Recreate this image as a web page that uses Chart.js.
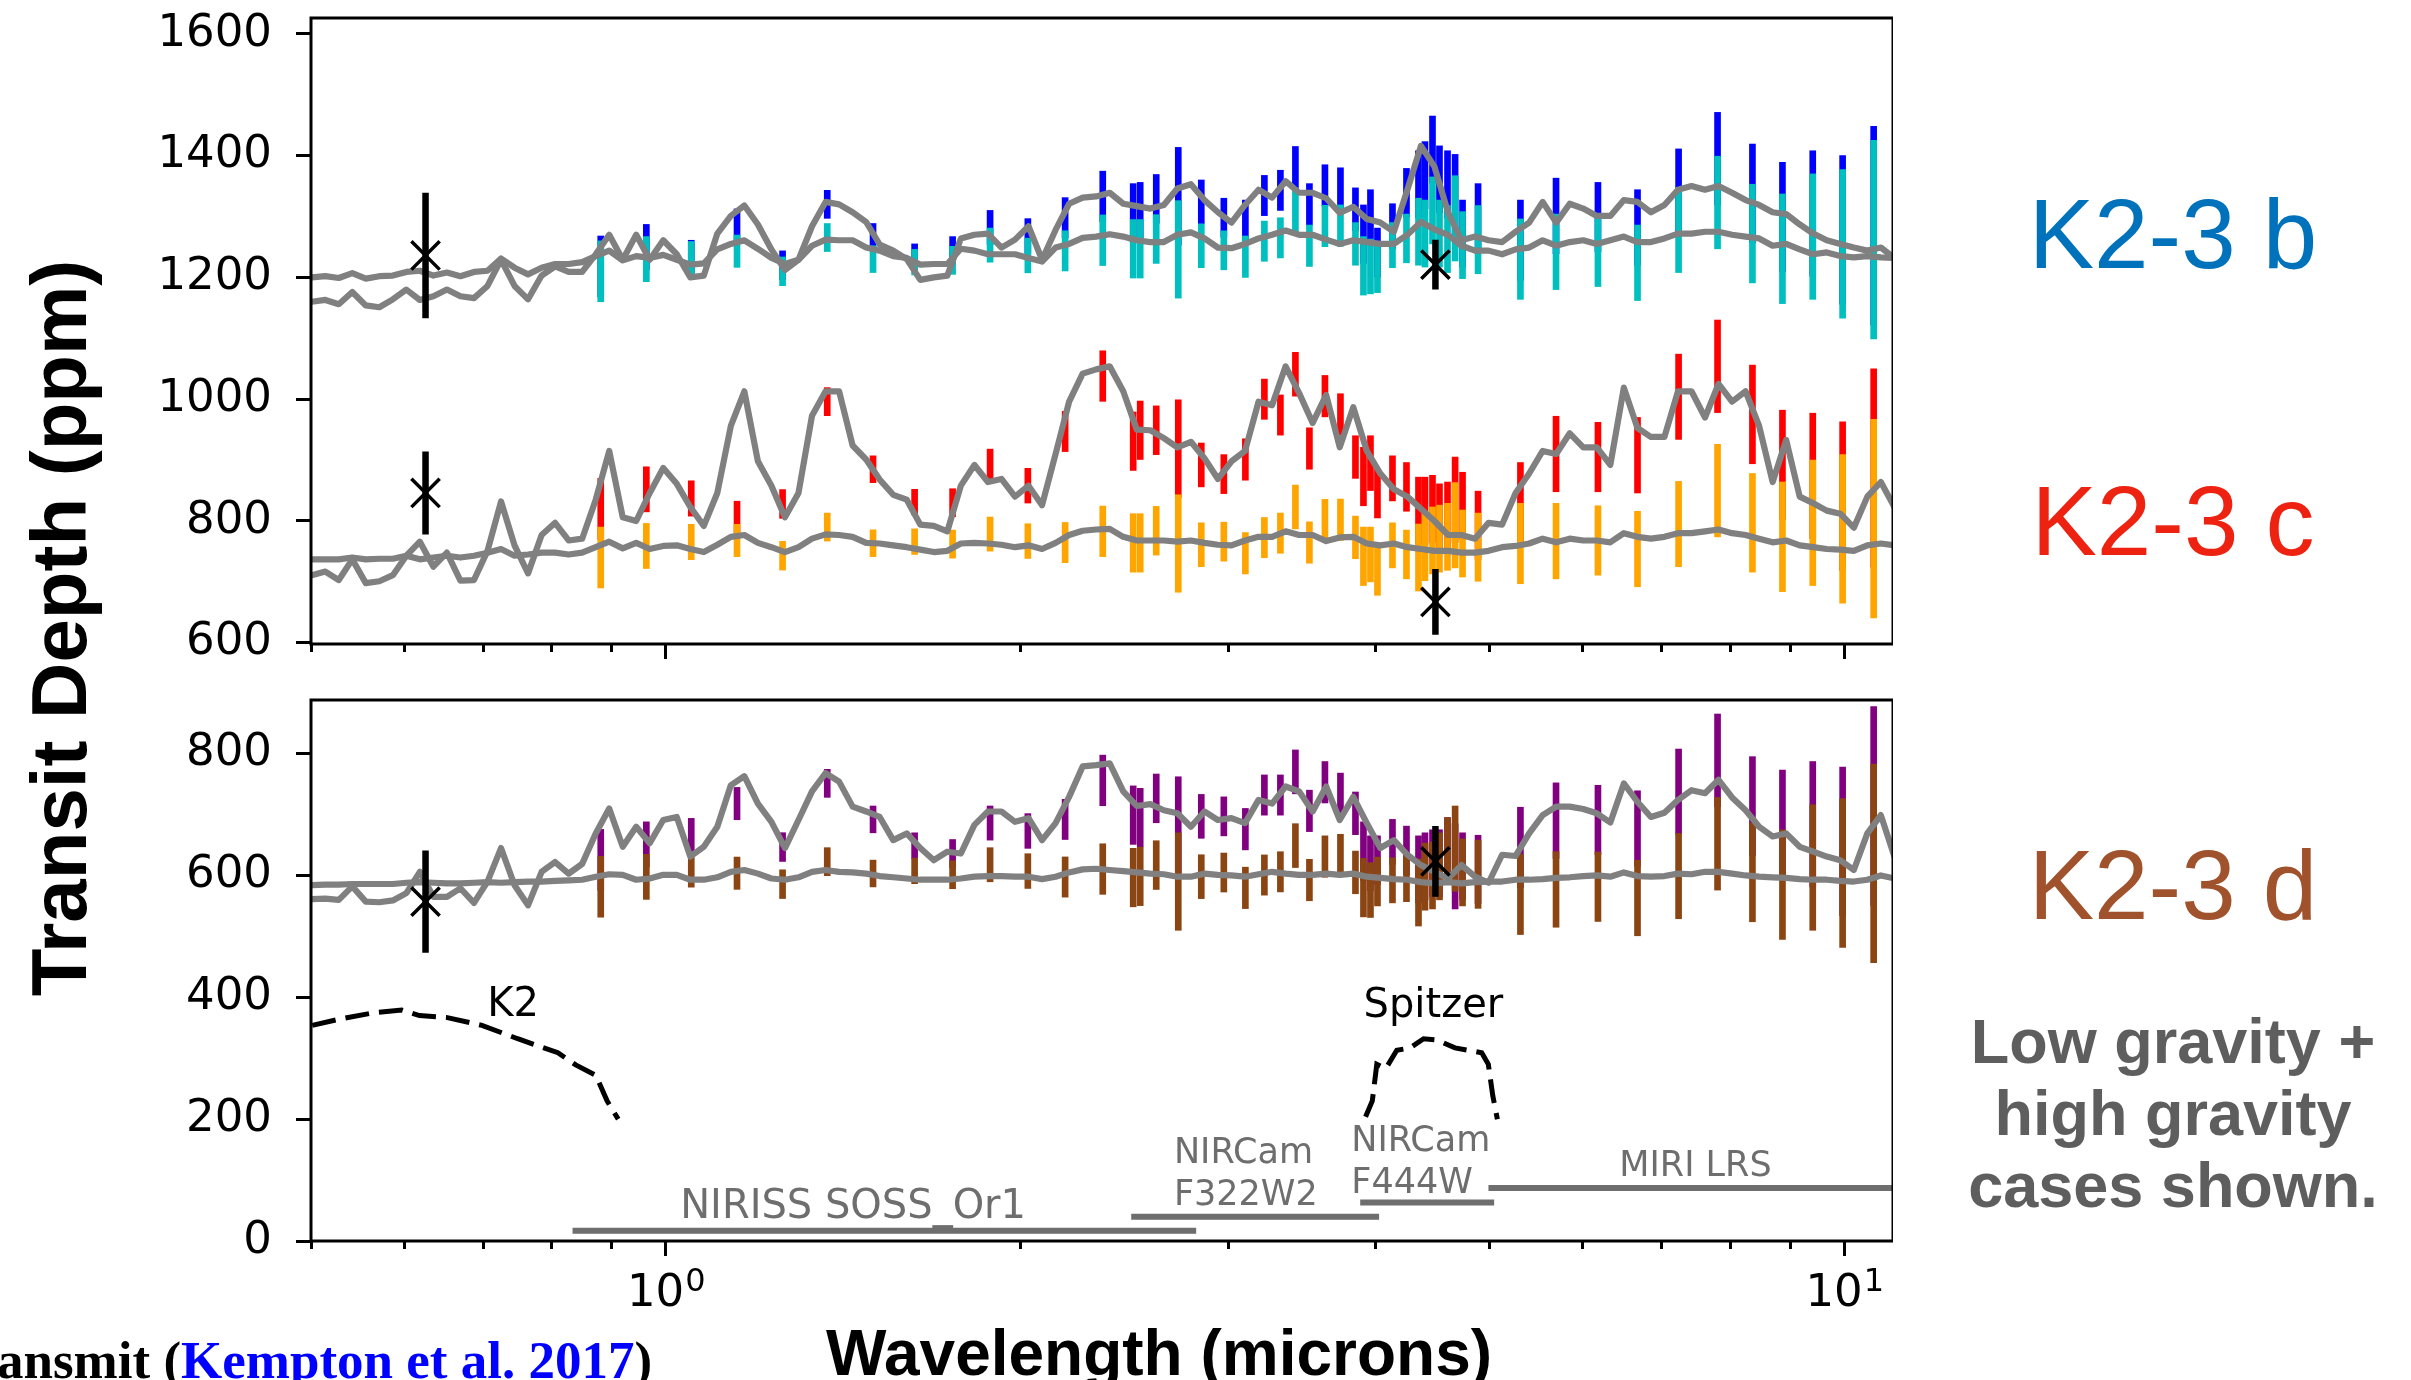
<!DOCTYPE html>
<html>
<head>
<meta charset="utf-8">
<title>K2-3 transmission spectra</title>
<script src="https://cdn.jsdelivr.net/npm/chart.js@4.4.1/dist/chart.umd.min.js"></script>
<style>
  html, body { margin: 0; padding: 0; background: #ffffff; }
  body { width: 2411px; height: 1380px; position: relative; overflow: hidden; }
  canvas { position: absolute; left: 0; }
  #cTop { top: 0; }
  #cBot { top: 680px; }
  .txt { position: absolute; white-space: nowrap; }
  #ytitle { left: 14px; top: 1128px; width: 1000px; height: 78px; line-height: 78px;
            font: bold 78px "Liberation Sans", Arial, sans-serif; text-align: center; color: #000;
            transform-origin: 0 0; transform: rotate(-90deg); }
  #xtitle { left: 659px; top: 1316px; width: 1000px; height: 64px; line-height: 64px;
            font: bold 64px "Liberation Sans", Arial, sans-serif; text-align: center; color: #000; }
  .planet { left: 1923px; width: 500px; height: 98px; line-height: 98px; text-align: center;
            font: 98px "Liberation Sans", Arial, sans-serif; }
  #note { left: 1923px; top: 1005px; width: 500px; line-height: 77px; text-align: center;
          font: bold 63px "Liberation Sans", Arial, sans-serif; color: #5e5e5e; }
  #cite { left: -3px; top: 1330px; height: 53px; line-height: 53px;
          font: bold 53px "Liberation Serif", "Times New Roman", serif; color: #000; }
  #cite span { color: #0000ff; }
</style>
</head>
<body>
<canvas id="cTop" width="1893" height="680"></canvas>
<canvas id="cBot" width="1893" height="700"></canvas>

<div class="txt" id="ytitle">Transit Depth (ppm)</div>
<div class="txt" id="xtitle">Wavelength (microns)</div>
<div class="txt planet" style="top:178px;color:#0072bb">K2-3 b</div>
<div class="txt planet" style="top:465px;color:#ee2211">K2-3 c</div>
<div class="txt planet" style="top:829px;color:#a0522d">K2-3 d</div>
<div class="txt" id="note">Low gravity +<br>high gravity<br>cases shown.</div>
<div class="txt" id="cite">ansmit (<span>Kempton et al. 2017</span>)</div>

<script>
// ---------- axis settings ----------
const X_MIN = 0.5, X_MAX = 11;
const xMajorTicks = [1, 10];
const xTickBase = ['10', '10'];
const xTickPower = ['0', '1'];
const xMinorTicks = [0.5, 0.6, 0.7, 0.8, 0.9, 2, 3, 4, 5, 6, 7, 8, 9];
const yTicksTop = [600, 800, 1000, 1200, 1400, 1600];
const yTicksBottom = [0, 200, 400, 600, 800];

// ---------- model spectra (wavelength in microns, depth in ppm) ----------
const modelWave = [0.5007,0.5142,0.5279,0.5420,0.5565,0.5714,0.5867,0.6024,0.6185,0.6351,0.6521,0.6695,0.6875,0.7059,0.7248,0.7442,0.7641,0.7846,0.8056,0.8272,0.8493,0.8721,0.8954,0.9194,0.9439,0.9691,0.9951,1.0218,1.0491,1.0772,1.1060,1.1356,1.1660,1.1973,1.2293,1.2623,1.2961,1.3308,1.3665,
  1.4031,1.4407,1.4793,1.5189,1.5596,1.6014,1.6443,1.6884,1.7336,1.7800,1.8277,1.8767,1.9270,1.9786,2.0316,2.0860,2.1419,2.1993,2.2582,2.3187,2.3808,2.4446,2.5101,2.5773,2.6464,2.7173,2.7901,2.8648,2.9416,3.0204,3.1013,3.1844,3.2697,3.3573,3.4472,3.5396,3.6344,3.7318,3.8318,
  3.9345,4.0399,4.1481,4.2592,4.3733,4.4904,4.6107,4.7342,4.8610,4.9912,5.1249,5.2622,5.4031,5.5478,5.6964,5.8490,6.0057,6.1665,6.3317,6.5013,6.6754,6.8542,7.0378,7.2263,7.4198,7.6186,7.8226,8.0322,8.2473,8.4682,8.6950,8.9279,9.1670,9.4126,9.6647,9.9235,10.189,10.462,10.742,11.030];

const bLowModel = [1160,1163,1156,1176,1154,1151,1164,1180,1163,1169,1180,1169,1166,1186,1229,1186,1164,1203,1218,1209,1209,1238,1270,1229,1270,1229,1261,1238,1200,1203,1272,1301,1318,1287,1246,1212,1229,1284,1324,
  1320,1307,1291,1254,1244,1230,1196,1200,1203,1264,1270,1272,1249,1262,1284,1229,1278,1321,1331,1333,1339,1321,1317,1313,1319,1346,1353,1327,1307,1290,1319,1344,1331,1358,1339,1339,1330,1306,1316,
  1296,1290,1275,1344,1416,1382,1307,1261,1267,1261,1258,1275,1290,1324,1290,1321,1313,1301,1301,1327,1324,1307,1319,1344,1350,1344,1350,1339,1327,1319,1307,1304,1287,1272,1261,1255,1249,1244,1249,1232];
const bHighModel = [1200,1202,1199,1207,1198,1202,1203,1209,1211,1203,1208,1202,1209,1211,1231,1216,1205,1216,1222,1222,1225,1235,1244,1228,1235,1232,1237,1229,1221,1223,1246,1255,1261,1247,1232,1222,1229,1252,1262,
  1261,1261,1249,1244,1235,1232,1221,1222,1222,1247,1244,1238,1238,1238,1232,1226,1249,1255,1265,1267,1271,1267,1261,1258,1258,1270,1274,1264,1249,1248,1255,1264,1270,1277,1270,1270,1262,1255,1261,
  1258,1255,1255,1270,1291,1279,1270,1252,1244,1244,1238,1246,1249,1261,1252,1258,1261,1255,1261,1267,1258,1258,1264,1272,1272,1275,1275,1270,1267,1264,1252,1255,1246,1238,1241,1235,1233,1235,1233,1232];
const cLowModel = [711,717,703,737,698,701,711,743,766,725,748,702,703,751,832,760,714,777,797,768,771,835,915,806,800,846,887,861,823,792,846,956,1013,898,858,806,846,973,1013,
  1013,924,901,868,843,835,794,792,783,858,892,864,869,840,858,826,910,996,1042,1049,1054,1013,950,949,936,921,930,903,869,898,915,996,990,1054,1010,961,1007,921,987,
  915,878,852,840,820,800,777,777,771,797,794,846,878,915,910,944,921,921,892,1019,953,938,938,1013,1013,970,1025,996,1013,956,864,933,840,829,817,812,789,840,864,823];
const cHighModel = [737,737,737,740,737,738,738,743,737,740,743,740,743,748,754,743,745,748,748,745,748,757,766,755,764,754,759,760,754,749,761,774,777,764,757,749,757,771,778,
  777,774,764,763,760,757,753,749,751,763,764,763,761,757,760,754,764,777,784,786,787,774,768,768,768,766,768,764,761,760,768,774,774,783,777,777,767,773,774,
  763,760,763,757,754,751,751,748,748,751,757,759,763,771,765,771,768,768,765,780,774,771,774,780,780,783,786,780,777,771,765,768,760,757,754,753,751,760,763,760];
const dLowModel = [561,562,560,582,557,556,559,571,606,565,565,579,555,590,645,584,551,606,622,603,619,669,710,647,680,653,691,696,631,647,680,748,763,718,688,645,691,738,768,
  754,713,705,696,658,669,645,625,639,636,683,705,705,688,694,658,686,729,779,781,784,738,714,717,707,702,680,705,691,694,686,724,718,746,738,705,746,691,729,
  686,645,658,634,617,606,595,617,598,588,634,632,669,699,713,713,709,702,687,751,721,696,703,724,740,735,757,728,707,680,664,669,647,639,631,625,609,669,699,631];
const dHighModel = [584,585,585,586,586,586,586,588,589,588,587,587,588,589,588,589,590,590,591,592,593,598,602,601,593,595,601,601,593,593,597,606,609,603,595,593,597,606,609,
  606,605,603,599,597,595,593,593,593,595,598,599,599,598,598,594,598,605,610,611,609,607,605,603,602,598,598,603,601,600,598,602,606,603,601,601,603,601,603,
  598,596,594,593,589,587,589,587,589,590,590,593,593,594,596,597,599,600,598,605,599,598,599,603,602,606,606,603,600,598,597,596,594,593,593,591,590,593,600,595];

// ---------- simulated JWST bins: centre wavelength, 1-sigma error, bin depths ----------
const binWave = [0.8807,0.9628,1.0511,1.1494,1.2564,1.3710,1.4993,1.6262,1.7515,1.8846,2.0289,2.1822,2.3487,2.4926,2.5270,2.6074,2.7221,2.8473,2.9755,3.1035,3.2209,3.3233,3.4222,3.5172,3.6254,3.7370,3.8482,3.9088,3.9627,4.0173,4.1368,4.2516,4.3525,4.4081,4.4733,4.5349,4.6064,4.6754,4.7437,4.8898,5.3119,5.6945,6.1805,6.6773,7.2352,7.8075,8.3584,8.8631,9.4036,9.9688,10.592];
const binErr = [50,37,29,26.5,23.6,23,22,21,23,28,28.5,33,41.5,48,48,40,80,36,32,34,33,33,36,34,34,34,35,48,45,40,37,40,55,55,55,55,55,70,55,56,66,62,57,62,70,76,81,90,103,122,163];
const bLowBin = [1218,1250,1232,1286,1220,1320,1266.5,1234,1244,1282,1268,1298,1333,1306,1308,1329,1333.5,1324,1298,1293,1334.5,1343,1379,1320,1351,1346,1312,1271,1299,1241,1284,1339,1353,1368,1410,1361,1353,1332,1272,1298,1261,1301,1299,1282,1341,1395,1338,1299,1305,1278,1285];
const bHighBin = [1210,1230,1230,1243,1210,1265.5,1230,1225,1228,1253,1236,1243.6,1261,1247,1247,1263,1246,1252,1244.5,1234,1259.5,1265,1311,1252,1284.5,1285,1255,1219,1218,1215,1253,1264,1275,1272,1310,1272,1263,1297,1253,1262,1230,1242,1242,1224,1278,1323,1272,1247,1267,1255,1262];
const cLowBin = [820,852,837,806,828,996,885,831,830,890,858,947,1038,931,949,949,919,892,877,901,1000,974,1041,919,1005,975,905,873,895,845,870,856,817,817,820,806,809,835,825,793,830,910,905,908,1004,1054,975,892,874,841,887];
const cHighBin = [740,759,765.5,768,743,790,763.5,766,762,778.5,767,764.6,783,764,764,784,763,761,766,747,772.7,780,823,764.6,801.5,802,773,742,745,718,760,745,740,757,768,771,774,793,763,757,763,767,768,754,795,850,797,774,797,787,804];
const dLowBin = [625.6,651,664.7,718,646.6,751.2,692,649,636,686,673,692,756,699,695,726.5,682,697,697,676,732,732,770,706,753,734,702,640,620,625,655,641,610,615,620,620,640,615,615,610,646,690,691,677,737.5,789,714,683,684,656,714];
const dHighBin = [581.5,597.7,609.8,603.7,585.7,622.6,603.2,607.5,601.2,617.6,607.2,597.4,610.5,596.5,598.5,617,590,598,604.8,579.6,600.7,606,649,592.5,631,633.5,605,580,576,590,592,597,572,598,600,615,640,644,605,602,569,577,581.5,563,599,652,605,585,613,604,620];

// ---------- measured transits (K2 and Spitzer) ----------
const obsWave = [0.6254, 4.499];
const bObs = [1236, 1221], bObsErr = [103, 41];
const cObs = [846, 667],   cObsErr = [68, 54];
const dObs = [557, 623],   dObsErr = [84, 58];

// ---------- bandpass responses (arbitrary scale) ----------
const k2Wave = [0.5012,0.5284,0.5665,0.5970,0.6181,0.6513,0.6983,0.7488,0.8100,0.8387,0.8724,0.8917,0.9113];
const k2Resp = [354,364,375,379,370,367,354,332,309,289,272,230,200];
const spitzerWave = [3.925,3.977,4.012,4.083,4.172,4.282,4.396,4.513,4.674,4.798,4.925,4.989,5.033,5.078];
const spitzerResp = [204,230,290,283,313,317,332,330,317,313,309,290,238,200];

// ---------- JWST instrument coverage ----------
const instStart = [0.8335, 2.483, 3.884, 4.990];
const instEnd   = [2.819, 4.030, 5.046, 12];
const instLevel = [17, 40, 63, 87];

// ---------- colours ----------
const GRAY = '#808080', INST_GRAY = '#6e6e6e';
const BLUE = '#0000ff', CYAN = '#00bfbf', RED = '#ff0000', ORANGE = '#ffa500', PURPLE = '#800080', BROWN = '#8b4513';

// ---------- dataset builders ----------
const pts = (xs, ys) => xs.map((x, i) => ({ x: x, y: ys[i] }));

function modelLine(values) {
  return { type: 'line', data: pts(modelWave, values), borderColor: GRAY, borderWidth: 6.2,
           pointRadius: 0, tension: 0, fill: false, borderJoinStyle: 'round', borderCapStyle: 'round', order: 1 };
}
function binBars(centres, color, order) {
  return { type: 'bar', data: binWave.map((w, i) => ({ x: w, y: [centres[i] - binErr[i], centres[i] + binErr[i]] })),
           backgroundColor: color, borderWidth: 0, barThickness: 6, maxBarThickness: 6, grouped: false, order: order };
}
function obsBars(vals, errs) {
  const d = [];
  obsWave.forEach((w, i) => { d.push({ x: w, y: vals[i] - errs[i] }, { x: w, y: vals[i] + errs[i] }, { x: w, y: null }); });
  return { type: 'line', data: d, borderColor: '#000', borderWidth: 6.5, borderCapStyle: 'butt', pointRadius: 0, spanGaps: false, order: 0 };
}
function obsMarks(vals) {
  return { type: 'line', data: pts(obsWave, vals), showLine: false, pointStyle: 'crossRot', pointRadius: 20,
           pointBorderWidth: 3.5, pointBorderColor: '#000', pointBackgroundColor: '#000', order: 0 };
}
function response(xs, ys) {
  return { type: 'line', data: pts(xs, ys), borderColor: '#000', borderWidth: 5, borderDash: [24, 10],
           pointRadius: 0, tension: 0, fill: false, order: 1 };
}
function instrumentBars() {
  const d = [];
  instStart.forEach((s, i) => { d.push({ x: s, y: instLevel[i] }, { x: instEnd[i], y: instLevel[i] }, { x: instEnd[i], y: null }); });
  return { type: 'line', data: d, borderColor: INST_GRAY, borderWidth: 6, borderCapStyle: 'butt', pointRadius: 0, spanGaps: false, order: 1 };
}

// ---------- scales ----------
const tickFont = { family: 'DejaVu Sans', size: 45 };

function xScales(axisHeight) {
  return {
    xMinor: {
      type: 'logarithmic', position: 'bottom', weight: 0, min: X_MIN, max: X_MAX, bounds: 'data', offset: false,
      grid: { display: true, offset: false, drawOnChartArea: false, drawTicks: true, tickLength: 8, tickWidth: 3, tickColor: '#000' },
      border: { display: false },
      ticks: { display: false },
      afterBuildTicks: s => { s.ticks = xMinorTicks.map(v => ({ value: v })); },
      afterFit: s => { s.height = 0; s.paddingLeft = 0; s.paddingRight = 0; }
    },
    x: {
      type: 'logarithmic', position: 'bottom', weight: 1, min: X_MIN, max: X_MAX, bounds: 'data', offset: false,
      grid: { display: true, offset: false, drawOnChartArea: false, drawTicks: true, tickLength: 15, tickWidth: 3, tickColor: '#000' },
      border: { display: false },
      ticks: { display: false },
      afterBuildTicks: s => { s.ticks = xMajorTicks.map(v => ({ value: v, major: true })); },
      afterFit: s => { s.height = axisHeight; s.paddingLeft = 0; s.paddingRight = 0; }
    }
  };
}
function yScale(min, max, ticks) {
  return {
    type: 'linear', position: 'left', min: min, max: max, bounds: 'data',
    grid: { display: true, drawOnChartArea: false, drawTicks: true, tickLength: 15, tickWidth: 3, tickColor: '#000' },
    border: { display: false },
    ticks: { autoSkip: false, padding: 24, color: '#000', font: tickFont, callback: v => String(v) },
    afterBuildTicks: s => { s.ticks = ticks.map(v => ({ value: v })); },
    afterFit: s => { s.width = 311; s.paddingTop = 0; s.paddingBottom = 0; }
  };
}

// plot frame (all four spines)
const frame = {
  id: 'frame',
  afterDraw(chart) {
    const { ctx, chartArea: a } = chart;
    ctx.save();
    ctx.strokeStyle = '#000';
    ctx.lineWidth = 3;
    ctx.strokeRect(a.left, a.top, a.right - a.left, a.bottom - a.top);
    ctx.restore();
  }
};

// decade labels written as base with a raised exponent
const decadeLabels = {
  id: 'decadeLabels',
  afterDraw(chart) {
    const ctx = chart.ctx, xs = chart.scales.x;
    ctx.save();
    ctx.fillStyle = '#000';
    ctx.textAlign = 'left';
    ctx.textBaseline = 'alphabetic';
    xMajorTicks.forEach((v, i) => {
      ctx.font = '45px "DejaVu Sans"';
      const wBase = ctx.measureText(xTickBase[i]).width;
      ctx.font = '32px "DejaVu Sans"';
      const wPow = ctx.measureText(xTickPower[i]).width;
      const left = xs.getPixelForValue(v) - (wBase + wPow) / 2;
      ctx.font = '45px "DejaVu Sans"';
      ctx.fillText(xTickBase[i], left, xs.top + 65);
      ctx.font = '32px "DejaVu Sans"';
      ctx.fillText(xTickPower[i], left + wBase + 1, xs.top + 50);
    });
    ctx.restore();
  }
};

// labels inside the lower panel, anchored in data coordinates
const lowerNotes = [
  { text: ['K2'], wave: 0.742, depth: 369, align: 'center', size: 40, color: '#000000' },
  { text: ['Spitzer'], wave: 4.481, depth: 367, align: 'center', size: 40, color: '#000000' },
  { text: ['NIRISS SOSS_Or1'], wave: 1.442, depth: 38, align: 'center', size: 40, color: INST_GRAY },
  { text: ['NIRCam', 'F322W2'], wave: 2.699, depth: 128, align: 'left', size: 35, color: INST_GRAY },
  { text: ['NIRCam', 'F444W'], wave: 3.817, depth: 147, align: 'left', size: 35, color: INST_GRAY },
  { text: ['MIRI LRS'], wave: 7.478, depth: 106, align: 'center', size: 35, color: INST_GRAY }
];
const notes = {
  id: 'notes',
  afterDatasetsDraw(chart) {
    const ctx = chart.ctx, xs = chart.scales.x, ys = chart.scales.y;
    ctx.save();
    ctx.textBaseline = 'alphabetic';
    lowerNotes.forEach(n => {
      ctx.font = n.size + 'px "DejaVu Sans"';
      ctx.fillStyle = n.color;
      ctx.textAlign = n.align;
      const px = xs.getPixelForValue(n.wave), py = ys.getPixelForValue(n.depth);
      n.text.forEach((line, j) => ctx.fillText(line, px, py + j * 42));
    });
    ctx.restore();
  }
};

const common = {
  responsive: false, animation: false, devicePixelRatio: 1, events: [],
  plugins: { legend: { display: false }, tooltip: { enabled: false } }
};

function draw() {
  new Chart(document.getElementById('cTop'), {
    type: 'bar',
    data: { datasets: [
      obsMarks(bObs), obsMarks(cObs),
      obsBars(bObs, bObsErr), obsBars(cObs, cObsErr),
      modelLine(bLowModel), modelLine(bHighModel), modelLine(cLowModel), modelLine(cHighModel),
      binBars(bHighBin, CYAN, 2), binBars(bLowBin, BLUE, 3),
      binBars(cHighBin, ORANGE, 2), binBars(cLowBin, RED, 3)
    ] },
    options: Object.assign({}, common, {
      layout: { autoPadding: false, padding: { left: 0, right: 0, top: 18, bottom: 0 } },
      scales: Object.assign(xScales(36), { y: yScale(598, 1626, yTicksTop) })
    }),
    plugins: [frame]
  });

  new Chart(document.getElementById('cBot'), {
    type: 'bar',
    data: { datasets: [
      obsMarks(dObs), obsBars(dObs, dObsErr),
      modelLine(dLowModel), modelLine(dHighModel),
      binBars(dHighBin, BROWN, 2), binBars(dLowBin, PURPLE, 3),
      response(k2Wave, k2Resp), response(spitzerWave, spitzerResp),
      instrumentBars()
    ] },
    options: Object.assign({}, common, {
      layout: { autoPadding: false, padding: { left: 0, right: 0, top: 20, bottom: 0 } },
      scales: Object.assign(xScales(139), { y: yScale(0, 888, yTicksBottom) })
    }),
    plugins: [frame, notes, decadeLabels]
  });
}

if (document.fonts && document.fonts.ready) { document.fonts.ready.then(draw); } else { draw(); }
</script>
</body>
</html>
